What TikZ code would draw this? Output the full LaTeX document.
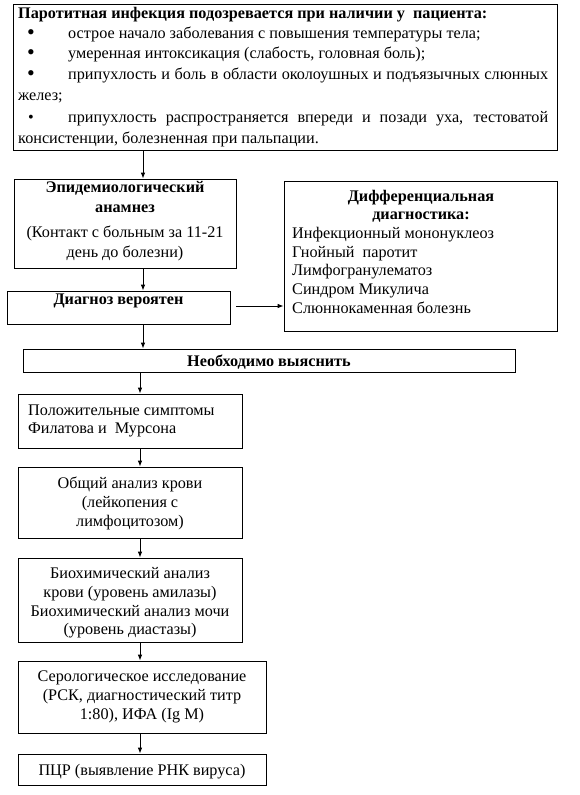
\documentclass[tikz,border=0pt]{standalone}
\usepackage{fontspec}
\setmainfont{Liberation Serif}
\usetikzlibrary{arrows.meta}
\newcommand{\fs}{\fontsize{16.2}{18}\selectfont}
\begin{document}
\begin{tikzpicture}[x=1pt,y=-1pt,
 box/.style={draw,line width=0.8pt,inner sep=0pt},
 txt/.style={inner sep=0pt,font=\fs,anchor=base west},
 ctxt/.style={inner sep=0pt,font=\fs,anchor=base},
 bul/.style={inner sep=0pt,anchor=base,font=\fontsize{22}{22}\selectfont},
 arr/.style={line width=0.8pt,-{Latex[length=6pt,width=4.5pt]}}]
\useasboundingbox (0,0) rectangle (579,795);
% top box
\node[box,minimum width=544pt,minimum height=146pt] (top) at (285,77) {};
\node[txt] (t0) at (18,19) {\textbf{Паротитная инфекция подозревается при наличии у\ \ пациента:}};
\node[bul] (b1) at (31,39) {•}; \node[txt] (t1) at (68,38) {острое начало заболевания с повышения температуры тела;};
\node[bul] (b2) at (31,59) {•}; \node[txt] (t2) at (68,58) {умеренная интоксикация (слабость, головная боль);};
\node[bul] (b3) at (31,80) {•}; \node[txt] (t3) at (68,79) {\makebox[480pt][s]{припухлость и боль в области околоушных и подъязычных слюнных}};
\node[txt] (t3b) at (18,100) {желез;};
\node[bul,font=\fs] (b4) at (31,122) {•}; \node[txt] (t4) at (68,122) {\makebox[480pt][s]{припухлость распространяется впереди и позади уха, тестоватой}};
\node[txt] (t4b) at (18,143) {консистенции, болезненная при пальпации.};
% epid
\node[box,minimum width=222pt,minimum height=89pt] (epid) at (125,223.5) {};
\node[ctxt] (e1) at (125,192) {\textbf{Эпидемиологический}};
\node[ctxt] (e2) at (125,212) {\textbf{анамнез}};
\node[ctxt] (e3) at (125,237) {(Контакт с больным за 11-21};
\node[ctxt] (e4) at (125,257) {день до болезни)};
% diag
\node[box,minimum width=223pt,minimum height=33pt] (diag) at (118.5,307.5) {};
\node[ctxt] (d1) at (118.5,304) {\textbf{Диагноз вероятен}};
% diff
\node[box,minimum width=273pt,minimum height=150pt] (diff) at (420.5,256) {};
\node[ctxt] (f1) at (421,201) {\textbf{Дифференциальная}};
\node[ctxt] (f2) at (421,219) {\textbf{диагностика:}};
\node[txt] (f3) at (292,238) {Инфекционный мононуклеоз};
\node[txt] (f4) at (292,257) {Гнойный\ \ паротит};
\node[txt] (f5) at (292,275) {Лимфогранулематоз};
\node[txt] (f6) at (292,294) {Синдром Микулича};
\node[txt] (f7) at (292,313) {Слюннокаменная болезнь};
% necessary
\node[box,minimum width=492pt,minimum height=23pt] (nec) at (269,360.5) {};
\node[ctxt] (n1) at (269,366) {\textbf{Необходимо выяснить}};
% lower boxes
\node[box,minimum width=224pt,minimum height=54pt] (l1) at (130,421) {};
\node[txt] (l1a) at (28,415) {Положительные симптомы};
\node[txt] (l1b) at (28,433) {Филатова и\ \ Мурсона};
\node[box,minimum width=224pt,minimum height=71pt] (l2) at (130,502.5) {};
\node[ctxt] (l2a) at (130,488) {Общий анализ крови};
\node[ctxt] (l2b) at (130,507) {(лейкопения с};
\node[ctxt] (l2c) at (130,526) {лимфоцитозом)};
\node[box,minimum width=224pt,minimum height=84pt] (l3) at (130,600) {};
\node[ctxt] (l3a) at (130,578) {Биохимический анализ};
\node[ctxt] (l3b) at (130,597) {крови (уровень амилазы)};
\node[ctxt] (l3c) at (130,616) {Биохимический анализ мочи};
\node[ctxt] (l3d) at (130,634) {(уровень диастазы)};
\node[box,minimum width=248pt,minimum height=72pt] (l4) at (142,697) {};
\node[ctxt] (l4a) at (142,681) {Серологическое исследование};
\node[ctxt] (l4b) at (142,700) {(РСК, диагностический титр};
\node[ctxt] (l4c) at (142,719) {1:80), ИФА (Ig M)};
\node[box,minimum width=248pt,minimum height=31pt] (l5) at (142,769.5) {};
\node[ctxt] (l5a) at (142,775) {ПЦР (выявление РНК вируса)};
% arrows
\draw[arr] (top.south -| 143,0) -- (epid.north -| 143,0);
\draw[arr] (epid.south -| 143,0) -- (diag.north -| 143,0);
\draw[arr] (diag.south -| 143,0) -- (nec.north -| 143,0);
\draw[arr] (236,306) coordinate (ha) -- (diff.west |- ha);
\draw[arr] (nec.south -| 140,0) -- (l1.north -| 140,0);
\draw[arr] (l1.south -| 140,0) -- (l2.north -| 140,0);
\draw[arr] (l2.south -| 140,0) -- (l3.north -| 140,0);
\draw[arr] (l3.south -| 140,0) -- (l4.north -| 140,0);
\draw[arr] (l4.south -| 140,0) -- (l5.north -| 140,0);
\end{tikzpicture}
\end{document}
